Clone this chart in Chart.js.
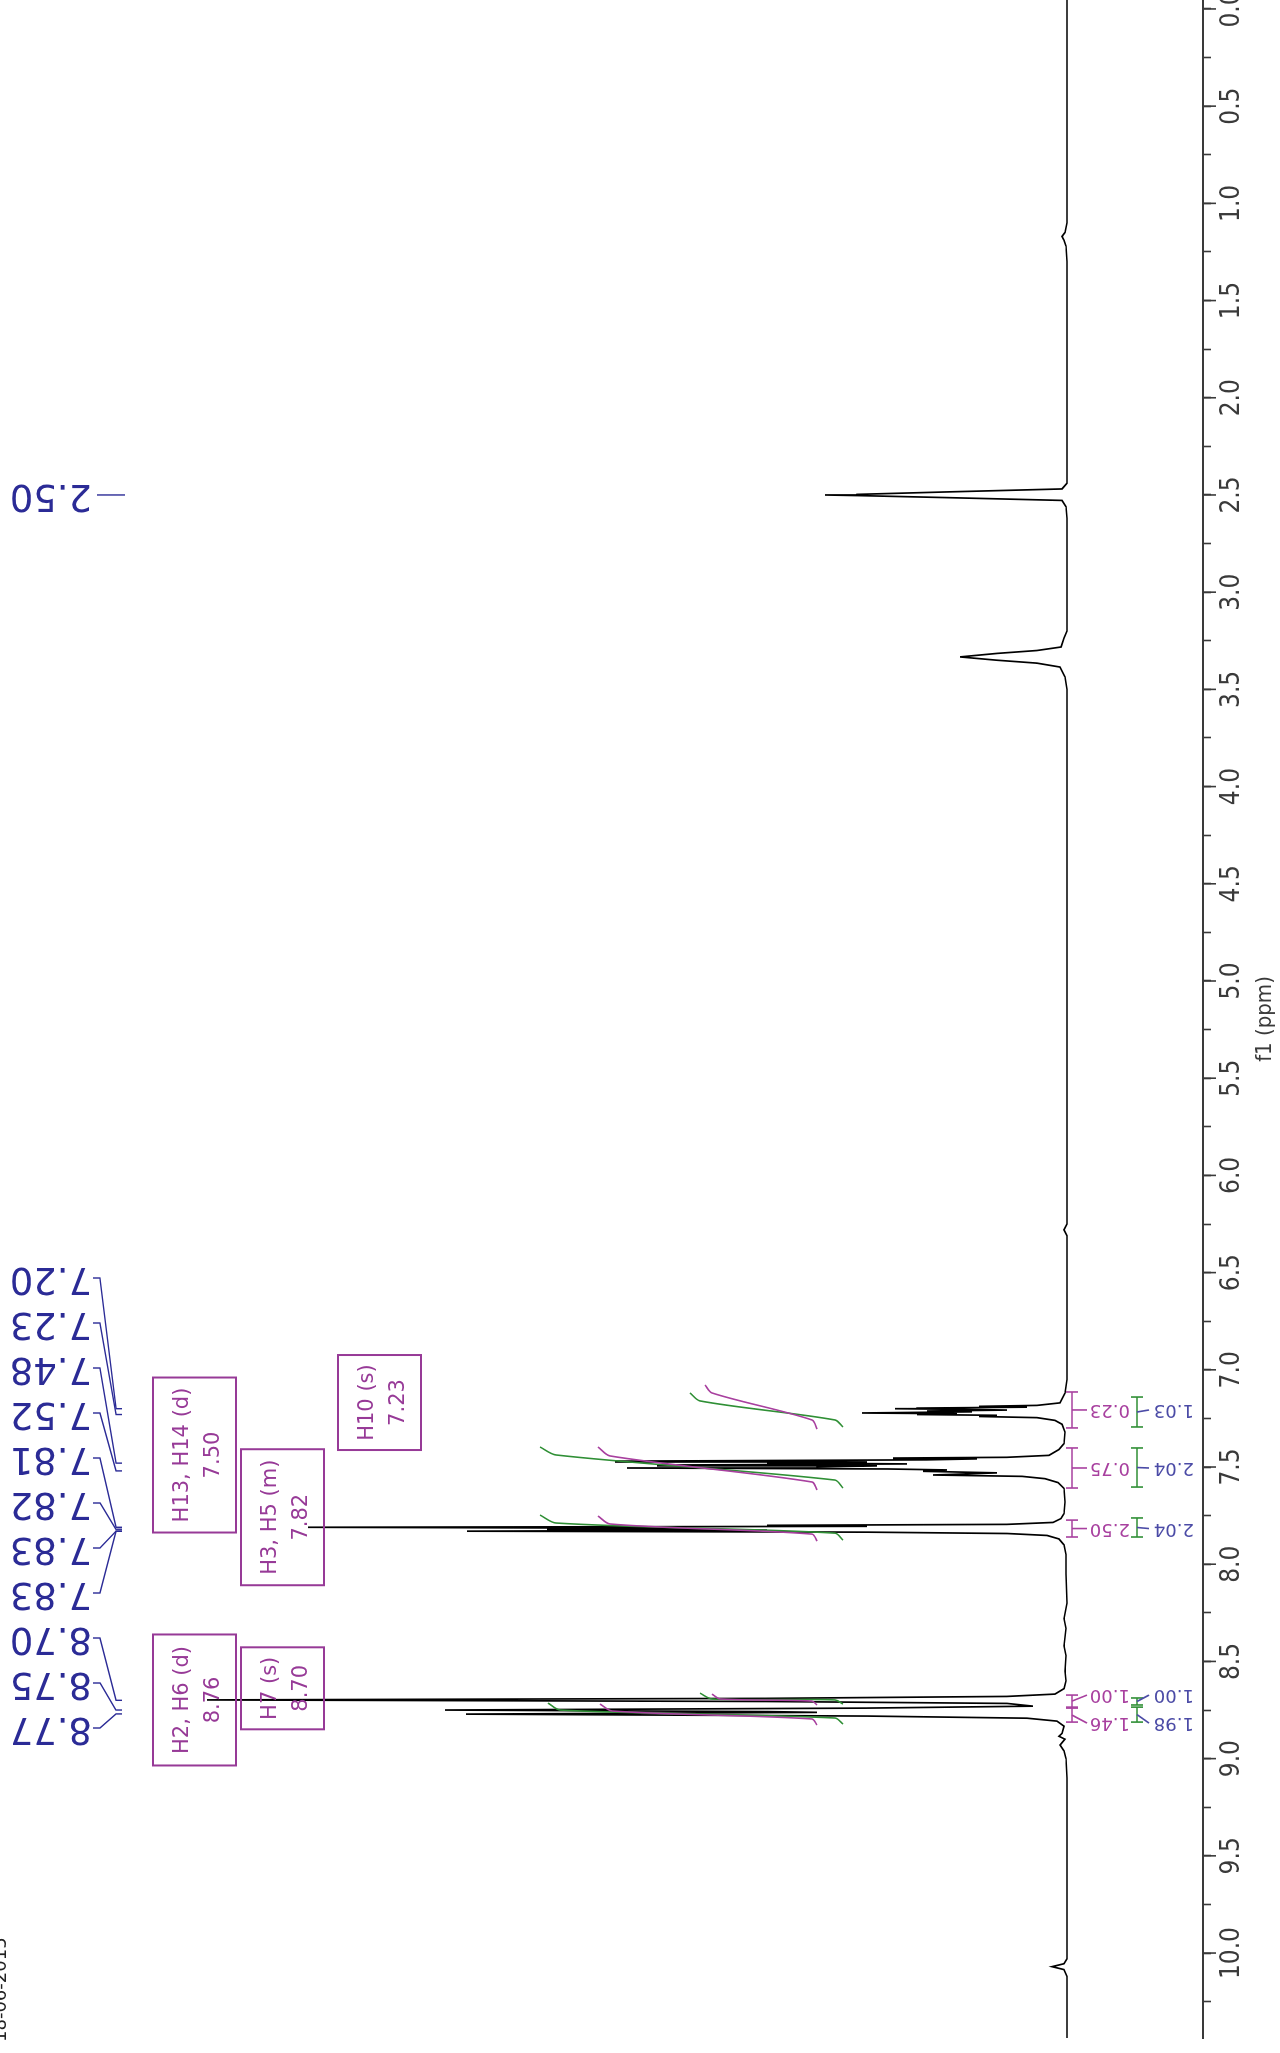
<!DOCTYPE html>
<html>
<head>
<meta charset="utf-8">
<script src="https://cdn.jsdelivr.net/npm/chart.js@4.4.0/dist/chart.umd.min.js"></script>
<style>
  html, body { margin: 0; padding: 0; background: #fff; }
  body { width: 1280px; height: 2053px; overflow: hidden; position: relative; }
  /* the spectrum is laid out landscape, then turned a quarter left */
  #wrap { position: absolute; left: 0; top: 0; width: 2053px; height: 1280px;
          transform-origin: 0 0; transform: translate(0px, 2053px) rotate(-90deg); }
  #nmr { display: block; }
</style>
</head>
<body>
<div id="wrap"><canvas id="nmr" width="2053" height="1280"></canvas></div>
<script>
/* ── Data ─────────────────────────────────────────────────────────────── */

// 1H trace: chemical shift (ppm) and intensity (baseline = 0)
const specPpm = [
  -0.05, 1.10, 1.15, 1.17, 1.19, 1.22, 1.30,
  2.44, 2.469, 2.485, 2.497, 2.500, 2.503, 2.513, 2.528, 2.56, 2.62,
  3.20, 3.236, 3.282, 3.300, 3.315, 3.333, 3.350, 3.365, 3.385, 3.436, 3.50,
  6.25, 6.28, 6.31,
  7.05, 7.12, 7.17, 7.183, 7.188, 7.192, 7.197, 7.200, 7.203, 7.207, 7.212, 7.216,
  7.222, 7.226, 7.230, 7.234, 7.240, 7.246, 7.26, 7.28, 7.32,
  7.38, 7.41, 7.44, 7.450, 7.454, 7.458, 7.463, 7.470, 7.474, 7.479, 7.484, 7.490,
  7.494, 7.500, 7.505, 7.510, 7.515, 7.522, 7.530, 7.541, 7.548, 7.56, 7.58, 7.61,
  7.68, 7.74, 7.765, 7.785, 7.795, 7.800, 7.805, 7.810, 7.815, 7.820, 7.825, 7.830,
  7.835, 7.842, 7.852, 7.87, 7.90, 7.95,
  8.05, 8.20, 8.28, 8.33, 8.42, 8.47, 8.55, 8.60,
  8.64, 8.668, 8.680, 8.690, 8.698, 8.706, 8.716, 8.730, 8.740, 8.750, 8.758, 8.762,
  8.771, 8.781, 8.792, 8.807, 8.833,
  8.87, 8.885, 8.90, 8.93, 8.96, 9.00, 9.10,
  10.03, 10.055, 10.07, 10.085, 10.12, 10.45
];
const specInt = [
  0, 0, 2, 5, 3, 1, 0,
  0, 5, 125, 210, 242, 210, 125, 5, 1, 0,
  0, 3, 6, 30, 70, 107, 70, 30, 7, 2, 0,
  0, 3, 0,
  0, 2, 7, 30, 88, 40, 150, 172, 110, 60, 140, 95,
  205, 110, 150, 70, 88, 30, 12, 5, 2,
  3, 8, 18, 60, 174, 90, 140, 452, 200, 300, 160, 410,
  190, 250, 440, 180, 120, 144, 70, 134, 45, 22, 9, 3,
  2, 3, 6, 14, 60, 300, 200, 759, 380, 520, 300, 600,
  200, 60, 20, 8, 3, 1,
  1, 0, 3, 1, 3, 1, 2, 1,
  3, 12, 60, 300, 860, 300, 60, 34, 200, 622, 300, 250,
  601, 200, 40, 10, 3,
  5, 8, 2, 7, 3, 1, 0,
  0, 3, 15, 3, 0, 0
];

// integral curves (null = break between regions)
const greenCurvePpm = [7.119, 7.160, 7.258, 7.294, null,
                       7.397, 7.438, 7.567, 7.608, null,
                       7.747, 7.788, 7.840, 7.876, null,
                       8.663, 8.693, 8.698, 8.719, null,
                       8.714, 8.750, 8.791, 8.822];
const greenCurveInt = [377, 367, 232, 224, null,
                       527, 511, 232, 224, null,
                       527, 511, 232, 224, null,
                       367, 355, 232, 224, null,
                       519, 507, 232, 224];
const pinkCurvePpm  = [7.078, 7.119, 7.258, 7.305, null,
                       7.397, 7.443, 7.577, 7.618, null,
                       7.752, 7.793, 7.845, 7.881, null,
                       8.668, 8.693, 8.704, 8.724, null,
                       8.719, 8.755, 8.796, 8.827];
const pinkCurveInt  = [362, 355, 255, 250, null,
                       469, 457, 255, 250, null,
                       469, 457, 255, 250, null,
                       355, 347, 255, 250, null,
                       467, 455, 255, 250];

// integration ranges and values
const pinkFrom  = [7.114, 7.402, 7.773, 8.673, 8.740];
const pinkTo    = [7.299, 7.608, 7.860, 8.735, 8.812];
const pinkVal   = ['0.23', '0.75', '2.50', '1.00', '1.46'];
const greenFrom = [7.140, 7.402, 7.762, 8.688, 8.735];
const greenTo   = [7.294, 7.603, 7.860, 8.724, 8.812];
const blueVal   = ['1.03', '2.04', '2.04', '1.00', '1.98'];

// picked peaks
const peakPpm = [2.50, 7.20, 7.23, 7.48, 7.52, 7.81, 7.82, 7.83, 7.83, 8.70, 8.75, 8.77];

// assignments
const assignName  = ['H13, H14 (d)', 'H3, H5 (m)', 'H10 (s)', 'H2, H6 (d)', 'H7 (s)'];
const assignShift = ['7.50', '7.82', '7.23', '8.76', '8.70'];
const assignPpm   = [7.50, 7.82, 7.23, 8.76, 8.70];

// axis
const tickLabels = ['0.0','0.5','1.0','1.5','2.0','2.5','3.0','3.5','4.0','4.5','5.0',
                    '5.5','6.0','6.5','7.0','7.5','8.0','8.5','9.0','9.5','10.0'];

/* ── Styling ──────────────────────────────────────────────────────────── */

const C = {
  axis:   '#3a3a3a',
  peak:   '#2b2b96',
  assign: '#973a97',
  pink:   '#a8409f',
  green:  '#2f8f35',
  blue:   '#4b4ba6'
};
const NARROW = "'Liberation Sans Narrow', 'DejaVu Sans Condensed', 'Arial Narrow', sans-serif";
const SANS   = "'DejaVu Sans', Verdana, sans-serif";

const majorVals = tickLabels.map(parseFloat);
const tickVals  = majorVals.concat(majorVals.map(v => v + 0.25)).sort((a, b) => a - b);

const toXY = (xs, ys) => xs.map((x, i) => (x == null ? { x: NaN, y: null } : { x, y: ys[i] }));

/* ── Overlay: labels, leaders, boxes, integral brackets ───────────────── */

const overlay = {
  id: 'overlay',
  afterDatasetsDraw(chart) {
    const ctx = chart.ctx;
    const xs  = chart.scales.x;
    const px  = v => xs.getPixelForValue(v);

    ctx.save();

    // longer marks on the labelled ticks
    ctx.strokeStyle = C.axis; ctx.lineWidth = 1.6;
    majorVals.forEach(v => {
      const x = px(v);
      ctx.beginPath(); ctx.moveTo(x, xs.top); ctx.lineTo(x, xs.top + 13); ctx.stroke();
    });

    // vertical text helper (reads bottom to top)
    const vtext = (txt, x, y) => {
      ctx.save(); ctx.translate(x, y); ctx.rotate(-Math.PI / 2);
      ctx.textAlign = 'left'; ctx.textBaseline = 'middle';
      ctx.fillText(txt, 0, 0); ctx.restore();
    };

    // peak labels with leaders
    ctx.font = '37px ' + SANS;
    ctx.fillStyle = C.peak; ctx.strokeStyle = C.peak; ctx.lineWidth = 1.4;
    peakPpm.forEach((p, i) => {
      const pk = px(p);
      if (i === 0) {
        vtext(p.toFixed(2), pk, 92);
        ctx.beginPath(); ctx.moveTo(pk, 97); ctx.lineTo(pk, 125); ctx.stroke();
        return;
      }
      const slot = 775 - 45 * (i - 1);
      vtext(p.toFixed(2), slot, 92);
      ctx.beginPath();
      ctx.moveTo(slot, 93); ctx.lineTo(slot, 100);
      ctx.lineTo(pk, 116); ctx.lineTo(pk, 122);
      ctx.stroke();
    });

    // assignment boxes
    const boxW   = [155, 136, 95, 131, 82];
    const boxTop = [153, 241, 338, 153, 241];
    ctx.strokeStyle = C.assign; ctx.fillStyle = C.assign; ctx.lineWidth = 2;
    ctx.font = '21px ' + SANS; ctx.textAlign = 'center'; ctx.textBaseline = 'middle';
    assignPpm.forEach((p, i) => {
      const cx = px(p) + 12, top = boxTop[i], w = boxW[i];
      ctx.strokeRect(cx - w / 2, top, w, 83);
      ctx.fillText(assignName[i], cx, top + 30);
      ctx.fillText(assignShift[i], cx, top + 61);
    });

    // integral brackets + values
    const labelShift = [0, 0, 0, 6, -8];
    const bracket = (a, b, y, col) => {
      const x1 = px(a), x2 = px(b);
      ctx.strokeStyle = col; ctx.lineWidth = 1.6;
      ctx.beginPath();
      ctx.moveTo(x1, y); ctx.lineTo(x2, y);
      ctx.moveTo(x1, y - 6); ctx.lineTo(x1, y + 6);
      ctx.moveTo(x2, y - 6); ctx.lineTo(x2, y + 6);
      ctx.stroke();
      return (x1 + x2) / 2;
    };
    ctx.font = '18px ' + SANS;
    pinkFrom.forEach((a, i) => {
      const c1 = bracket(a, pinkTo[i], 1072, C.pink);
      const l1 = c1 + labelShift[i];
      ctx.beginPath(); ctx.moveTo(c1, 1072); ctx.lineTo(l1, 1087); ctx.stroke();
      ctx.fillStyle = C.pink; vtext(pinkVal[i], l1, 1130);

      const c2 = bracket(greenFrom[i], greenTo[i], 1137, C.green);
      ctx.strokeStyle = C.blue;
      ctx.beginPath(); ctx.moveTo(c2, 1137); ctx.lineTo(l1, 1149); ctx.stroke();
      ctx.fillStyle = C.blue; vtext(blueVal[i], l1, 1194);
    });

    // acquisition date, mostly off the top edge
    ctx.fillStyle = '#222'; ctx.font = '18px ' + SANS;
    ctx.textAlign = 'left'; ctx.textBaseline = 'alphabetic';
    ctx.fillText('18-06-2015', 11, 6);

    ctx.restore();
  }
};

/* ── Chart ────────────────────────────────────────────────────────────── */

new Chart(document.getElementById('nmr'), {
  type: 'line',
  data: {
    datasets: [
      { data: toXY(specPpm, specInt), borderColor: '#000', borderWidth: 1.7,
        pointRadius: 0, tension: 0, order: 2 },
      { data: toXY(greenCurvePpm, greenCurveInt), borderColor: C.green, borderWidth: 1.6,
        pointRadius: 0, tension: 0.3, spanGaps: false, order: 1 },
      { data: toXY(pinkCurvePpm, pinkCurveInt), borderColor: C.pink, borderWidth: 1.6,
        pointRadius: 0, tension: 0.3, spanGaps: false, order: 0 }
    ]
  },
  options: {
    responsive: false,
    animation: false,
    devicePixelRatio: 1,
    events: [],
    layout: { padding: { left: 15, right: 0, top: 0, bottom: 0 } },
    plugins: { legend: { display: false }, tooltip: { enabled: false } },
    scales: {
      x: {
        type: 'linear', reverse: true, min: -0.046, max: 10.437,
        afterBuildTicks: s => { s.ticks = tickVals.map(v => ({ value: v })); },
        afterFit: s => { s.height = 77; s.paddingLeft = 0; s.paddingRight = 0; },
        ticks: {
          autoSkip: false, maxRotation: 0, minRotation: 0, padding: 6, color: C.axis,
          font: { family: NARROW, size: 26 },
          callback: v => { const i = majorVals.indexOf(v); return i < 0 ? '' : tickLabels[i]; }
        },
        grid: { drawOnChartArea: false, drawTicks: true, tickLength: 8,
                tickColor: C.axis, tickWidth: 1.6 },
        border: { display: true, color: C.axis, width: 2 },
        title: { display: true, text: 'f1 (ppm)', color: C.axis,
                 font: { family: NARROW, size: 22 }, padding: { top: 0, bottom: 2 } }
      },
      y: { display: false, min: -136, max: 1067 }
    }
  },
  plugins: [overlay]
});
</script>
</body>
</html>
